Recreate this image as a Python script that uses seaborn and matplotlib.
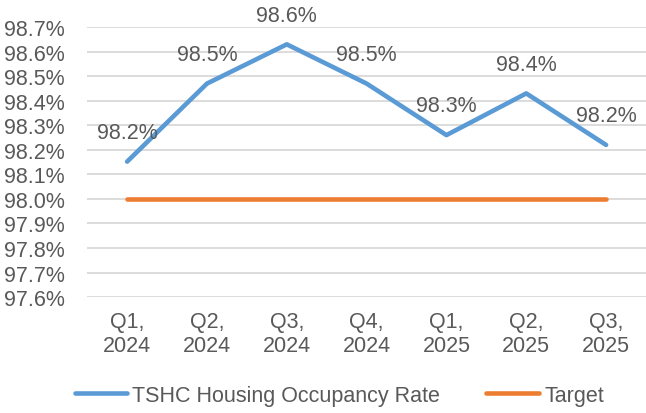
import pandas as pd
import matplotlib.pyplot as plt
import seaborn as sns
from matplotlib.ticker import FuncFormatter, MultipleLocator

# 四半期ごとの入居率（%）
quarters = ["Q1,\n2024", "Q2,\n2024", "Q3,\n2024", "Q4,\n2024", "Q1,\n2025", "Q2,\n2025", "Q3,\n2025"]
occupancy = [98.152, 98.47, 98.63, 98.47, 98.26, 98.43, 98.22]
target = [98.0, 98.0, 98.0, 98.0, 98.0, 98.0, 98.0]
series_names = ["TSHC Housing Occupancy Rate", "Target"]

df = pd.DataFrame({
    "quarter": quarters * 2,
    "value": occupancy + target,
    "series": [series_names[0]] * len(quarters) + [series_names[1]] * len(quarters),
})

sns.set_theme(style="white")
plt.rcParams['font.family'] = ['Liberation Sans', 'DejaVu Sans']
text_color = "#595959"

fig = plt.figure(figsize=(6.46, 4.14), dpi=100)
ax = fig.add_axes([0.135, 0.28, 0.865, 0.652])

sns.lineplot(data=df, x="quarter", y="value", hue="series", sort=False,
             palette=["#5b9bd5", "#ed7d31"], linewidth=3.3, ax=ax,
             solid_capstyle="round")

# データラベル
for i, v in enumerate(occupancy):
    ax.annotate(f"{v:.1f}%", (i, v), xytext=(0, 21), textcoords="offset points",
                ha="center", va="center", fontsize=15.5, color=text_color,
                annotation_clip=False)

ax.set_ylim(97.6, 98.7)
ax.set_xlim(-0.5, len(quarters) - 0.5)
ax.yaxis.set_major_locator(MultipleLocator(0.1))
ax.yaxis.set_major_formatter(FuncFormatter(lambda v, p: f"{v:.1f}%"))
ax.grid(axis="y", color="#d9d9d9", linewidth=1.3)
ax.set_axisbelow(True)
for s in ax.spines.values():
    s.set_visible(False)
ax.tick_params(axis="both", length=0, labelsize=15.5, labelcolor=text_color)
ax.tick_params(axis="y", pad=16)
ax.tick_params(axis="x", pad=10)
ax.set_xlabel("")
ax.set_ylabel("")

handles, labels = ax.get_legend_handles_labels()
ax.get_legend().remove()
leg = fig.legend(handles, labels, loc="center", bbox_to_anchor=(0.525, 0.043), ncol=2,
                 frameon=False, fontsize=15.5, handlelength=2.45, handletextpad=0.23,
                 columnspacing=2.15)
for t in leg.get_texts():
    t.set_color(text_color)

fig.savefig("out.png", dpi=100)
